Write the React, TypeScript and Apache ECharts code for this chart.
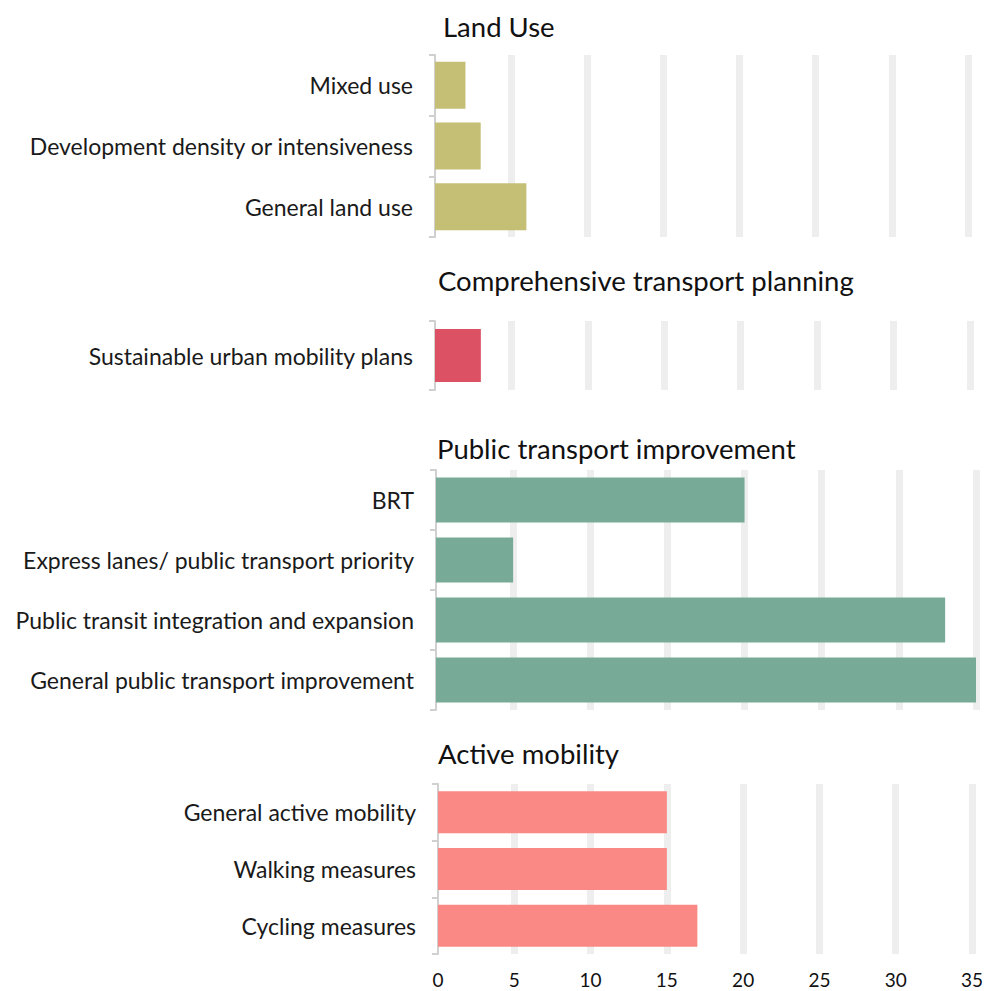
import React, { useEffect, useRef } from "react";
import * as echarts from "echarts";

const panelTitles = [
  "Land Use",
  "Comprehensive transport planning",
  "Public transport improvement",
  "Active mobility",
];

const landUseCats = ["Mixed use", "Development density or intensiveness", "General land use"];
const landUseVals = [2, 3, 6];

const planningCats = ["Sustainable urban mobility plans"];
const planningVals = [3];

const ptCats = [
  "BRT",
  "Express lanes/ public transport priority",
  "Public transit integration and expansion",
  "General public transport improvement",
];
const ptVals = [20, 5, 33, 35];

const activeCats = ["General active mobility", "Walking measures", "Cycling measures"];
const activeVals = [15, 15, 17];

const xMin = 0;
const xMax = 35;
const xInterval = 5;

const colors = ["#c4bf75", "#dc5164", "#78ab97", "#fa8884"];

const FONT = "Lato, 'Open Sans', sans-serif";

export default function App() {
  const ref = useRef<HTMLDivElement>(null);

  useEffect(() => {
    if (!ref.current) return;
    const chart = echarts.init(ref.current, undefined, { renderer: "svg" });

    const cats = [landUseCats, planningCats, ptCats, activeCats];
    const vals = [landUseVals, planningVals, ptVals, activeVals];
    const grids = [
      { left: 435, top: 55, width: 533, height: 182 },
      { left: 435, top: 321, width: 535, height: 69 },
      { left: 436, top: 470, width: 540, height: 240 },
      { left: 438, top: 784, width: 534, height: 170 },
    ];
    const barWidths = [47, 53, 45, 42];
    const titlePos = [
      { x: 443, y: 26 },
      { x: 438, y: 280 },
      { x: 437, y: 448 },
      { x: 438, y: 753 },
    ];

    const option: any = {
      animation: false,
      backgroundColor: "#ffffff",
      grid: grids.map((g) => ({ ...g, containLabel: false })),
      xAxis: grids.map((_, i) => ({
        type: "value",
        gridIndex: i,
        min: xMin,
        max: xMax,
        interval: xInterval,
        axisLine: { show: false },
        axisTick: { show: false },
        axisLabel: {
          show: i === 3,
          color: "#111",
          fontSize: 19,
          fontFamily: FONT,
          margin: 16,
        },
        splitLine: {
          show: true,
          showMinLine: false,
          lineStyle: { color: "#eeeeee", width: 7 },
        },
      })),
      yAxis: grids.map((_, i) => ({
        type: "category",
        gridIndex: i,
        inverse: true,
        data: cats[i],
        axisLine: { show: true, lineStyle: { color: "#d0d0d0", width: 2 } },
        axisTick: { show: true, length: 6, lineStyle: { color: "#d0d0d0", width: 2 } },
        axisLabel: {
          color: "#1a1a1a",
          fontSize: 23,
          fontFamily: FONT,
          margin: 22,
        },
        splitLine: { show: false },
      })),
      series: grids.map((_, i) => ({
        type: "bar",
        xAxisIndex: i,
        yAxisIndex: i,
        data: vals[i],
        barWidth: barWidths[i],
        itemStyle: { color: colors[i] },
      })),
      graphic: panelTitles.map((t, i) => ({
        type: "text",
        x: titlePos[i].x,
        y: titlePos[i].y,
        style: {
          text: t,
          fill: "#111",
          fontSize: 27.5,
          fontFamily: FONT,
          verticalAlign: "middle",
        },
      })),
    };

    chart.setOption(option);
    return () => chart.dispose();
  }, []);

  return (
    <div
      ref={ref}
      style={{ position: "fixed", left: 0, top: 0, width: 986, height: 991 }}
    />
  );
}
